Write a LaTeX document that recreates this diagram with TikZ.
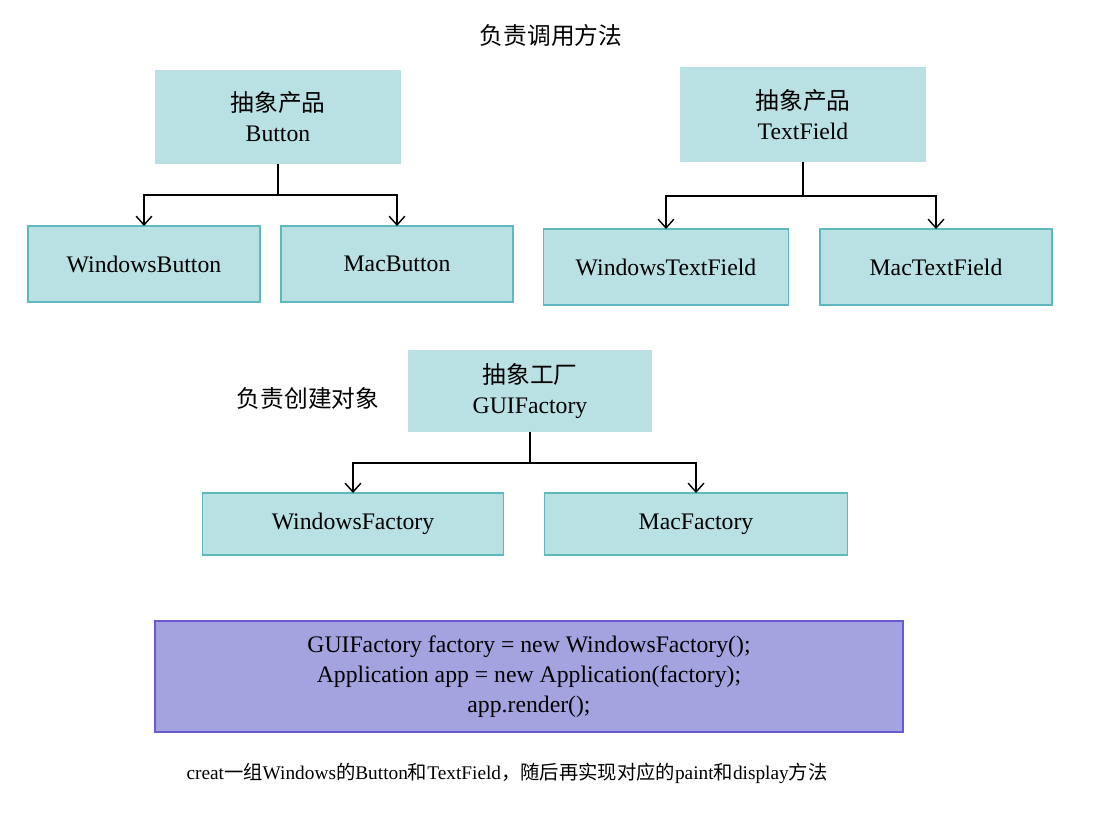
\documentclass[tikz,border=0pt]{standalone}
\usepackage{fontspec}
\setmainfont{Liberation Serif}
\newfontfamily\cjk{Noto Sans CJK SC}
\usetikzlibrary{arrows.meta}
\definecolor{boxfill}{HTML}{B9E0E3}
\definecolor{boxline}{HTML}{5EB8BE}
\definecolor{codefill}{HTML}{A3A3E0}
\definecolor{codeline}{HTML}{6A5ACD}
\tikzset{
  abstract/.style={fill=boxfill, align=center, inner sep=0pt, outer sep=0pt},
  concrete/.style={fill=boxfill, draw=boxline, line width=0.9pt, inner sep=0pt, outer sep=0pt},
  arr/.style={-{Straight Barb[length=5pt,width=9pt]}, line width=0.8pt},
}
\begin{document}
\begin{tikzpicture}[x=0.02cm, y=-0.02cm, every node/.style={font=\fontsize{13.5}{17}\selectfont}]
  \useasboundingbox (0,0) rectangle (1108,814);
  % top: products
  \node at (551,35) {\cjk 负责调用方法};
  \node[abstract, minimum width=4.92cm, minimum height=1.88cm] (btn) at (278,117) {{\cjk 抽象产品}\\Button};
  \node[abstract, minimum width=4.92cm, minimum height=1.9cm] (tf) at (803,114.5) {{\cjk 抽象产品}\\TextField};
  \node[concrete, minimum width=4.64cm, minimum height=1.52cm] (winbtn) at (144,264) {WindowsButton};
  \node[concrete, minimum width=4.64cm, minimum height=1.52cm] (macbtn) at (397,264) {MacButton};
  \node[concrete, minimum width=4.9cm, minimum height=1.52cm] (wintf) at (666,267) {WindowsTextField};
  \node[concrete, minimum width=4.64cm, minimum height=1.52cm] (mactf) at (936,267) {MacTextField};
  \draw[arr] (btn.south) -- ++(0,31) -| (winbtn.north);
  \draw[arr] (btn.south) -- ++(0,31) -| (macbtn.north);
  \draw[arr] (tf.south) -- ++(0,34) -| (wintf.north);
  \draw[arr] (tf.south) -- ++(0,34) -| (mactf.north);
  % middle: factories
  \node at (308,398) {\cjk 负责创建对象};
  \node[abstract, minimum width=4.9cm, minimum height=1.64cm] (gui) at (530,391) {{\cjk 抽象工厂}\\GUIFactory};
  \node[concrete, minimum width=6.02cm, minimum height=1.24cm] (winfac) at (353,524) {WindowsFactory};
  \node[concrete, minimum width=6.06cm, minimum height=1.24cm] (macfac) at (696,524) {MacFactory};
  \draw[arr] (gui.south) -- ++(0,31) -| (winfac.north);
  \draw[arr] (gui.south) -- ++(0,31) -| (macfac.north);
  % bottom: client code
  \node[fill=codefill, draw=codeline, line width=0.9pt, align=center, minimum width=14.96cm, minimum height=2.22cm, inner sep=0pt] (code) at (529,676.5)
    {GUIFactory factory = new WindowsFactory();\\Application app = new Application(factory);\\app.render();};
  \node[font=\fontsize{11}{13}\selectfont] (note) at (507,773) {creat{\cjk 一组}Windows{\cjk 的}Button{\cjk 和}TextField{\cjk ，随后再实现对应的}paint{\cjk 和}display{\cjk 方法}};
\end{tikzpicture}
\end{document}
